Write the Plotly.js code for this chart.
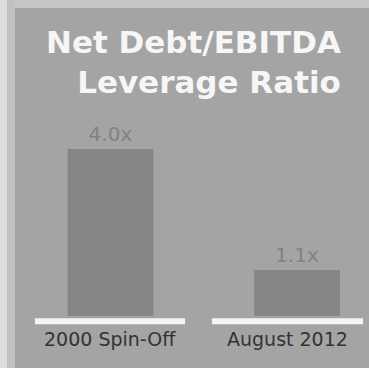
<!DOCTYPE html>
<html>
<head>
<meta charset="utf-8">
<script src="https://cdn.plot.ly/plotly-3.0.1.min.js"></script>
<style>html,body{margin:0;padding:0;background:#fff;}#chart{width:369px;height:368px;}</style>
</head>
<body>
<div id="chart"></div>
<script>
// Data
const categories = ["2000 Spin-Off", "August 2012"];
const leverage = [4.0, 1.1];
const valueLabels = ["4.0x", "1.1x"];
const titleLines = ["Net Debt/EBITDA", "Leverage Ratio"];

const xIdx = categories.map((c, i) => i);
const xRange = [-0.512, 1.386];
const toPaperX = (v) => (v - xRange[0]) / (xRange[1] - xRange[0]);

const trace = {
  type: "bar",
  x: xIdx,
  y: leverage,
  width: 0.46,
  marker: {color: "#868686"},
  text: valueLabels,
  textposition: "outside",
  textfont: {family: "DejaVu Sans", size: 20, color: "#828282"},
  cliponaxis: false,
  hoverinfo: "skip"
};

// baseline segments and labels, offset per category
const segOffsets = [[-0.405, 0.40], [-0.456, 0.354]];
const shapes = [
  {type: "rect", xref: "paper", yref: "paper", x0: -0.045, x1: -0.022, y0: -0.2, y1: 1.05, fillcolor: "#dcdcdc", line: {width: 0}, layer: "below"},
  {type: "rect", xref: "paper", yref: "paper", x0: -0.022, x1: 0, y0: -0.2, y1: 1.05, fillcolor: "#c2c2c2", line: {width: 0}, layer: "below"},
  {type: "rect", xref: "paper", yref: "paper", x0: 0, x1: 1.0, y0: 0.975, y1: 1.05, fillcolor: "#c6c6c6", line: {width: 0}, layer: "below"}
];
const annotations = [{
  xref: "paper", yref: "paper", x: 0.9266, y: 0.929, xanchor: "right", yanchor: "top",
  align: "right", showarrow: false, text: titleLines.join("<br>"),
  font: {family: "DejaVu Sans", size: 31, color: "#f6f6f6", weight: "bold"}
}];
xIdx.forEach((i) => {
  const x0 = toPaperX(i + segOffsets[i][0]), x1 = toPaperX(i + segOffsets[i][1]);
  shapes.push({type: "line", xref: "paper", yref: "paper", x0: x0, x1: x1, y0: -0.0165, y1: -0.0165,
    line: {color: "#f4f4f4", width: 6}});
  annotations.push({xref: "paper", yref: "paper", x: (x0 + x1) / 2, y: -0.073, text: categories[i],
    showarrow: false, xanchor: "center", yanchor: "middle",
    font: {family: "DejaVu Sans", size: 19, color: "#333333"}});
});

const layout = {
  width: 369, height: 368,
  margin: {l: 15, r: 0, t: 0, b: 52},
  paper_bgcolor: "#a4a4a4",
  plot_bgcolor: "#a4a4a4",
  showlegend: false,
  xaxis: {range: xRange, showgrid: false, zeroline: false, showticklabels: false, ticks: "", fixedrange: true},
  yaxis: {range: [0, 7.57], showgrid: false, zeroline: false, showticklabels: false, ticks: "", fixedrange: true},
  shapes: shapes,
  annotations: annotations
};

Plotly.newPlot("chart", [trace], layout, {displayModeBar: false, staticPlot: true});
</script>
</body>
</html>
